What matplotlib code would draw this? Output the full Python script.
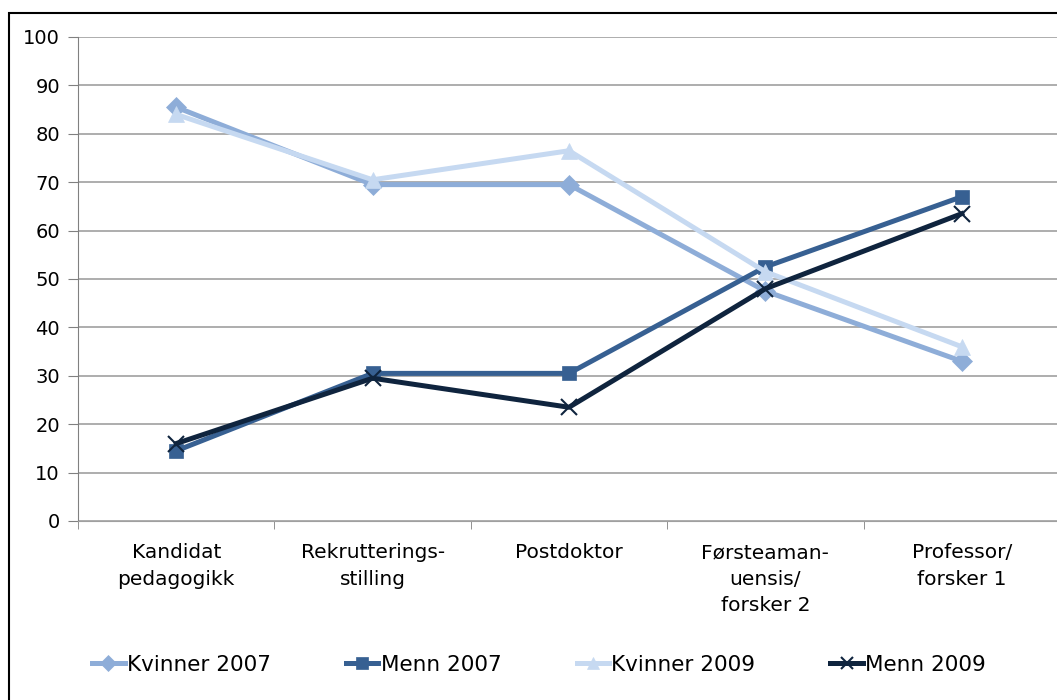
import matplotlib.pyplot as plt
from matplotlib.patches import Rectangle

categories = ["Kandidat\npedagogikk", "Rekrutterings-\nstilling", "Postdoktor",
              "Førsteaman-\nuensis/\nforsker 2", "Professor/\nforsker 1"]
kvinner_2007 = [85.5, 69.5, 69.5, 47.5, 33]
menn_2007 = [14.5, 30.5, 30.5, 52.5, 67]
kvinner_2009 = [84, 70.5, 76.5, 51.5, 36]
menn_2009 = [16, 29.5, 23.5, 48, 63.5]

series = [
    ("Kvinner 2007", kvinner_2007, "#8EADD8", "D", 10),
    ("Menn 2007", menn_2007, "#376092", "s", 10),
    ("Kvinner 2009", kvinner_2009, "#C6D9F1", "^", 11),
    ("Menn 2009", menn_2009, "#0F243E", "x", 11),
]

fig = plt.figure(figsize=(10.57, 7.0), dpi=100)
fig.patches.append(Rectangle((9 / 1057, -0.1), 1.2, 1 - 13 / 700 + 0.1,
                             transform=fig.transFigure, fill=False,
                             edgecolor="black", linewidth=1.5))
ax = fig.add_axes([78 / 1057, 1 - 521 / 700, 982 / 1057, 484 / 700])

x = range(len(categories))
for label, vals, color, marker, ms in series:
    ax.plot(x, vals, color=color, linewidth=3.6, marker=marker, markersize=ms,
            markeredgewidth=1.5 if marker == "x" else 0.5,
            markeredgecolor=color, label=label)

ax.set_xlim(-0.5, 4.5)
ax.set_ylim(0, 100)
ax.set_yticks(range(0, 101, 10))
ax.grid(axis="y", color="#A0A0A0", linewidth=1.2)
ax.set_axisbelow(True)
ax.set_xticks(list(x))
ax.set_xticklabels(categories, fontsize=14.5, linespacing=1.5, va="top")
ax.set_xticks([i + 0.5 for i in range(-1, 5)], minor=True)
ax.tick_params(axis="x", which="major", length=0, pad=16)
ax.tick_params(axis="x", which="minor", length=6, color="#808080")
ax.tick_params(axis="y", length=7, color="#808080", labelsize=14, pad=6)
for s in ["top", "right"]:
    ax.spines[s].set_visible(False)
ax.spines["left"].set_color("#808080")
ax.spines["bottom"].set_color("#A0A0A0")

fig.legend(loc="center", bbox_to_anchor=(539 / 1057, 1 - 665 / 700), ncol=4,
           frameon=False, fontsize=15.5, handlelength=1.5, handletextpad=0.1,
           columnspacing=3.5, markerscale=0.8)

fig.savefig("out.png", dpi=100)
